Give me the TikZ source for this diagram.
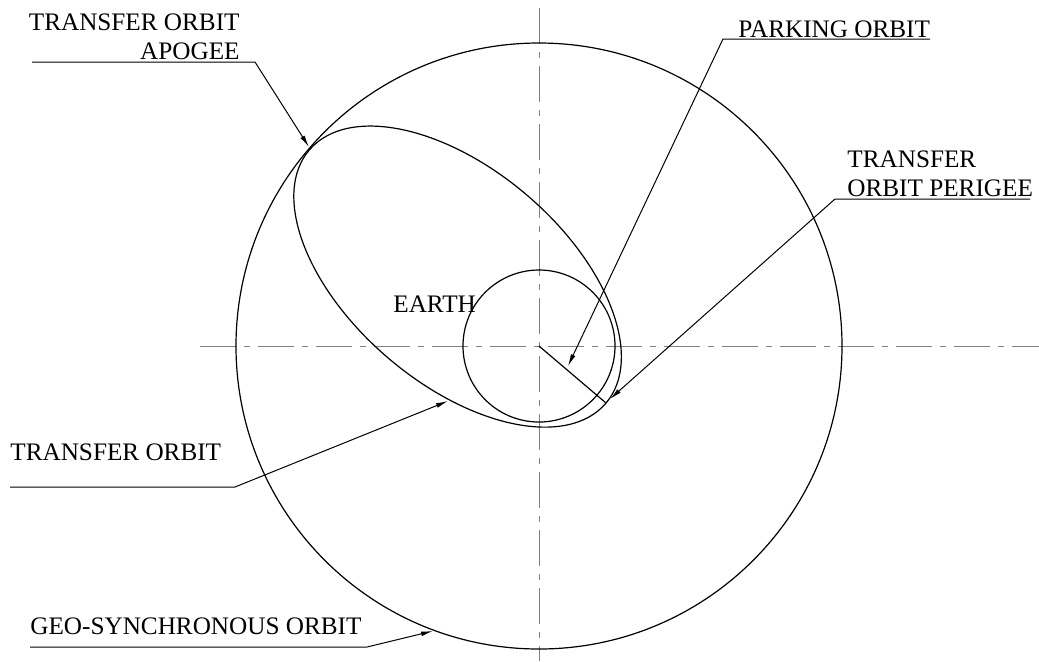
\documentclass[tikz,border=0pt]{standalone}
\usepackage{fontspec}
\setmainfont{Liberation Serif}
\usetikzlibrary{arrows.meta}

\begin{document}
\begin{tikzpicture}[x=0.5pt, y=-0.5pt,
    orbit/.style={line width=0.6pt},
    axis/.style={gray, line width=0.4pt, dash pattern=on 18pt off 4pt on 3pt off 4pt},
    lbl/.style={inner sep=0pt, font=\fontsize{12.6}{14.5}\selectfont},
    lead/.style={line width=0.5pt, -{Latex[length=6pt, width=2.4pt]}}]

    \useasboundingbox (0,0) rectangle (1039,661);

    % Axes
    \draw[axis] (200,346) -- (1039,346);
    \draw[axis] (539,8) -- (539,661);

    % Orbits
    \coordinate (O) at (539,346);
    \coordinate (C) at (457.6,276.6);
    \draw[orbit] (O) circle (303); % geo-synchronous
    \draw[orbit] (O) circle (76);  % earth
    \draw[orbit, rotate around={-40.5:(C)}] (C) ellipse [x radius=195, y radius=107];

    % Perigee radius
    \coordinate (peri) at (606,403);
    \draw[orbit] (O) -- (peri);

    % Labels
    \node[lbl, align=right, anchor=south east] (apolbl) at (240,60) {TRANSFER ORBIT\\APOGEE};
    \node[lbl, anchor=base west] (parklbl) at (738,37) {PARKING ORBIT};
    \node[lbl, align=left, anchor=south west] (perilbl) at (847,197) {TRANSFER\\ORBIT PERIGEE};
    \node[lbl, anchor=base west] (translbl) at (10,460) {TRANSFER ORBIT};
    \node[lbl, anchor=base west] (geolbl) at (30,634) {GEO-SYNCHRONOUS ORBIT};
    \node[lbl, anchor=base west] (earthlbl) at (393,312) {EARTH};

    % Leaders
    \coordinate (apo0) at (32,62);    \coordinate (apo1) at (255,62);   \coordinate (apo) at (309,147);
    \coordinate (park0) at (930,39);  \coordinate (park1) at (723,39);  \coordinate (park) at (568,366);
    \coordinate (pg0) at (1030,199);  \coordinate (pg1) at (835,199);   \coordinate (pg) at (610,399);
    \coordinate (tr0) at (10,487);    \coordinate (tr1) at (235,487);   \coordinate (tr) at (448,401);
    \coordinate (geo0) at (30,647);   \coordinate (geo1) at (367,647);  \coordinate (geo) at (433,631);
    \draw[lead] (apo0) -- (apo1) -- (apo);
    \draw[lead] (park0) -- (park1) -- (park);
    \draw[lead] (pg0) -- (pg1) -- (pg);
    \draw[lead] (tr0) -- (tr1) -- (tr);
    \draw[lead] (geo0) -- (geo1) -- (geo);

\end{tikzpicture}
\end{document}
